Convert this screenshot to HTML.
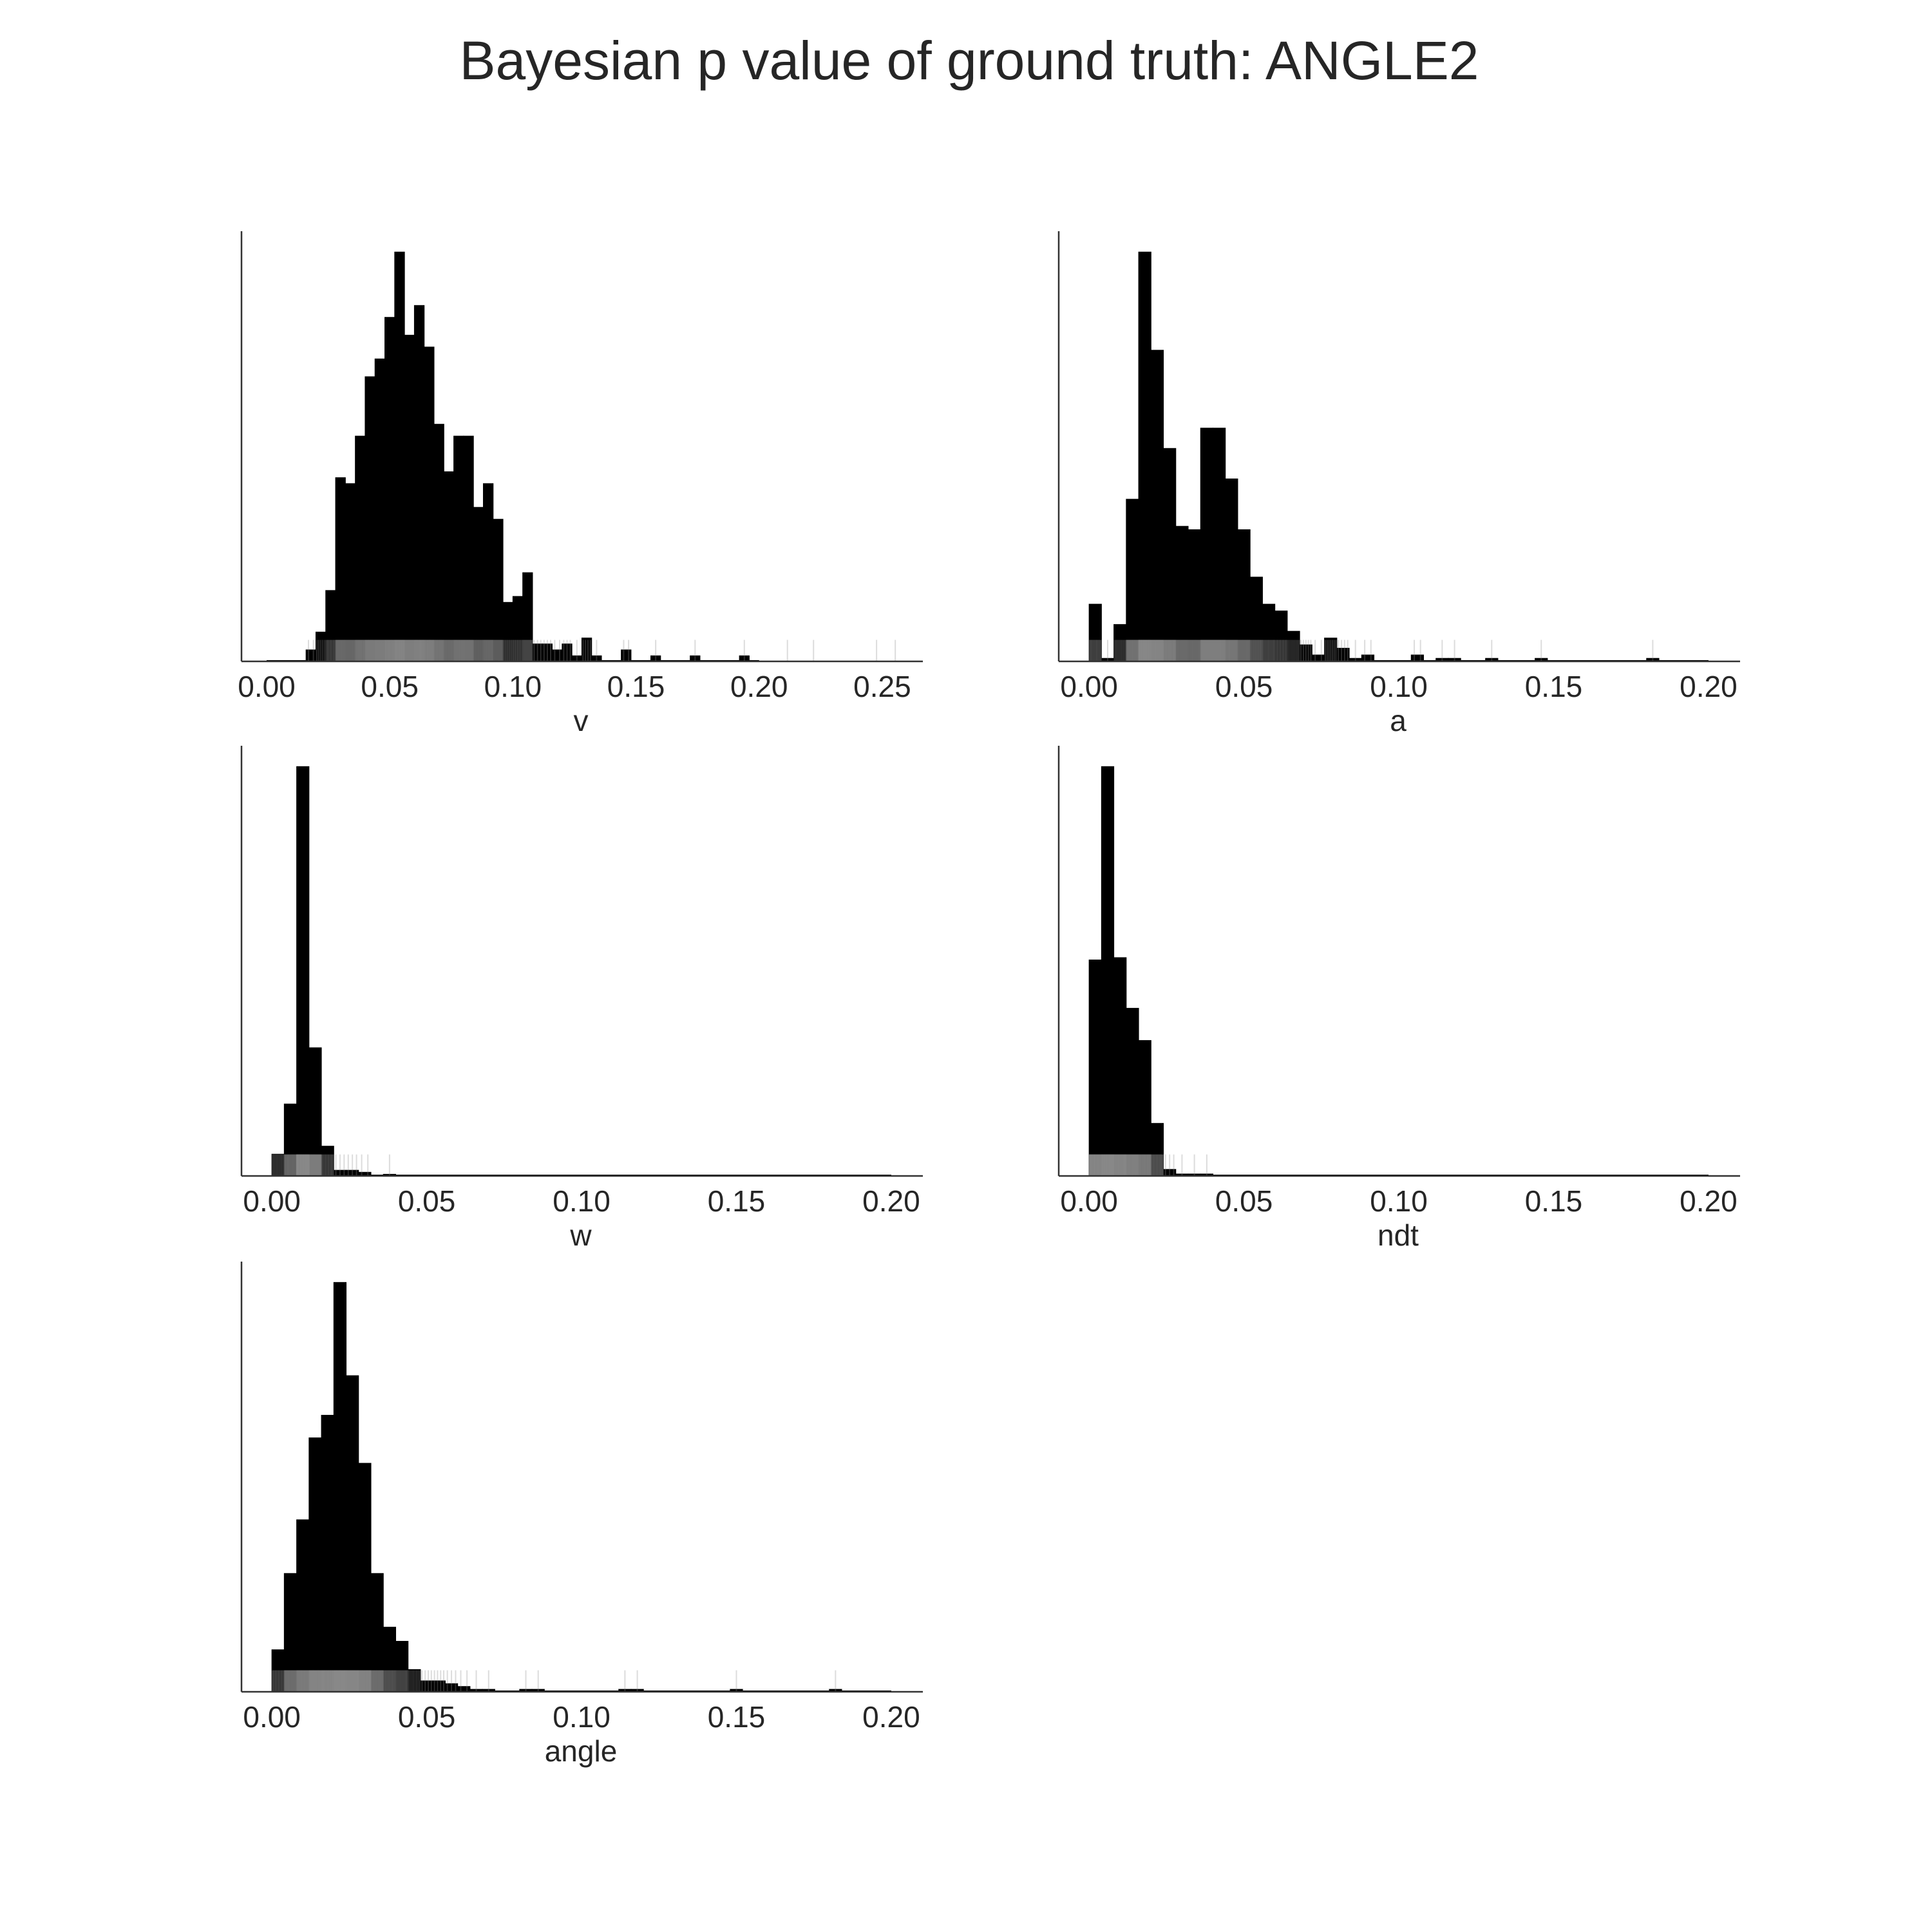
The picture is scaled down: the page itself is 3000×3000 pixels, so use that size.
<!DOCTYPE html>
<html><head><meta charset="utf-8">
<style>
html,body{margin:0;padding:0;background:#fff;}
svg{display:block;}
text{font-family:"Liberation Sans",Arial,sans-serif;fill:#262626;}
</style></head>
<body>
<svg id="fig" width="3000" height="3000" viewBox="0 0 3000 3000" xmlns="http://www.w3.org/2000/svg">
<rect width="3000" height="3000" fill="#fff"/>
<text x="1505" y="123" font-size="84" text-anchor="middle">Bayesian p value of ground truth: ANGLE2</text>
</svg>
<script>
// Histogram bin setup (range 0..0.2, 50 bins)
const binStart = 0;
const binWidth = 0.004;
// Counts per bin for each parameter
const countsV = [0,0,0,0,2,5,12,31,30,38,48,51,58,69,55,60,53,40,32,38,38,26,30,24,10,11,15,3,3,2,3,1,4,1,0,0,2,0,0,1,0,0,0,1,0,0,0,0,1,0];
const countsA = [17,1,11,48,121,92,63,40,39,69,69,54,39,25,17,15,9,5,2,7,4,1,2,0,0,0,2,0,1,1,0,0,1,0,0,0,1,0,0,0,0,0,0,0,0,1,0,0,0,0];
const countsW = [11,36,204,64,15,3,3,2,0,1,0,0,0,0,0,0,0,0,0,0,0,0,0,0,0,0,0,0,0,0,0,0,0,0,0,0,0,0,0,0,0,0,0,0,0,0,0,0,0,0];
const countsNdt = [94,178,95,73,59,23,3,1,1,1,0,0,0,0,0,0,0,0,0,0,0,0,0,0,0,0,0,0,0,0,0,0,0,0,0,0,0,0,0,0,0,0,0,0,0,0,0,0,0,0];
const countsAngle = [15,42,61,90,98,145,112,81,42,23,18,8,4,4,3,2,1,1,0,0,1,1,0,0,0,0,0,0,1,1,0,0,0,0,0,0,0,1,0,0,0,0,0,0,0,1,0,0,0,0];
// Extra rug values outside histogram range
const extraRugV = [0.2115,0.2221,0.2477,0.2553];
const extraRugA = [];
const extraRugW = [];
const extraRugNdt = [];
const extraRugAngle = [];
// Tick labels
const ticksV = [0.00,0.05,0.10,0.15,0.20,0.25];
const ticksOther = [0.00,0.05,0.10,0.15,0.20];
const labels = ["v","a","w","ndt","angle"];

const NS = "http://www.w3.org/2000/svg";
const svg = document.getElementById("fig");
function mk(tag, attrs, parent){
  const e = document.createElementNS(NS, tag);
  for (const k in attrs) e.setAttribute(k, attrs[k]);
  (parent||svg).appendChild(e);
  return e;
}

const panels = [
  {name:"v", counts:countsV, extra:extraRugV, ticks:ticksV, left:375, top:359, xmin:-0.0102, xmax:0.2665},
  {name:"a", counts:countsA, extra:extraRugA, ticks:ticksOther, left:1644, top:359, xmin:-0.0098, xmax:0.2102},
  {name:"w", counts:countsW, extra:extraRugW, ticks:ticksOther, left:375, top:1158, xmin:-0.0098, xmax:0.2102},
  {name:"ndt", counts:countsNdt, extra:extraRugNdt, ticks:ticksOther, left:1644, top:1158, xmin:-0.0098, xmax:0.2102},
  {name:"angle", counts:countsAngle, extra:extraRugAngle, ticks:ticksOther, left:375, top:1959, xmin:-0.0098, xmax:0.2102}
];
const W = 1058, H = 668;

panels.forEach(function(p){
  const g = mk("g", {});
  
  
  const bottom = p.top + H;
  const xs = function(v){ return p.left + (v - p.xmin) / (p.xmax - p.xmin) * W; };
  const maxC = Math.max.apply(null, p.counts);
  const ys = function(c){ return bottom - c / (maxC * 1.05) * H; };

  // bars
  p.counts.forEach(function(c, i){
    if (c <= 0) return;
    const x0 = xs(binStart + i * binWidth), x1 = xs(binStart + (i + 1) * binWidth);
    const r = mk("rect", {x:x0-0.5, y:ys(c), width:x1-x0+1, height:bottom-ys(c), fill:"#000"}, g);
    
    
  });
  // baseline of histogram across range
  mk("line", {x1:xs(binStart), x2:xs(binStart+p.counts.length*binWidth), y1:bottom-1, y2:bottom-1, stroke:"#000", "stroke-width":2}, g);

  // rug derived from counts (evenly spread within bin) + extras
  const rugVals = [];
  p.counts.forEach(function(c, i){
    for (let k = 0; k < c; k++) rugVals.push(binStart + i * binWidth + (k + 0.5) / c * binWidth);
  });
  p.extra.forEach(function(v){ rugVals.push(v); });
  const rugH = H * 0.05;
  const rg = mk("g", {stroke:"#8a8a8a", "stroke-opacity":0.3, "stroke-width":2}, g);
  
  
  rugVals.forEach(function(v){
    mk("line", {x1:xs(v), x2:xs(v), y1:bottom, y2:bottom-rugH}, rg);
  });

  // spines
  const ys1 = mk("line", {x1:p.left, x2:p.left, y1:p.top, y2:bottom, stroke:"#333", "stroke-width":2.5}, g);
  
  
  const xs1 = mk("line", {x1:p.left, x2:p.left+W, y1:bottom, y2:bottom, stroke:"#333", "stroke-width":2.5}, g);
  
  

  // tick labels
  p.ticks.forEach(function(t){
    const tx = mk("text", {x:xs(t), y:bottom+55, "font-size":46, "text-anchor":"middle"}, g);
    tx.textContent = t.toFixed(2);
    
    
  });
  // x label
  const xl = mk("text", {x:p.left + W/2 - 2, y:bottom+108, "font-size":46, "text-anchor":"middle"}, g);
  xl.textContent = p.name;
  
  
});
</script>
</body></html>
